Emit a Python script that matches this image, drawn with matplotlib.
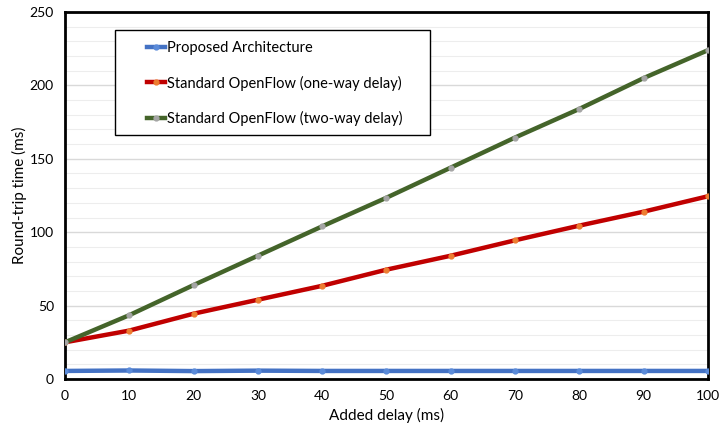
import matplotlib.pyplot as plt
from matplotlib.patches import Rectangle
import numpy as np

plt.rcParams['font.family'] = ['Lato', 'DejaVu Sans']

# data
delay = [0, 10, 20, 30, 40, 50, 60, 70, 80, 90, 100]
proposed = [5.5, 5.8, 5.4, 5.7, 5.5, 5.5, 5.5, 5.5, 5.5, 5.5, 5.5]
one_way = [25, 33, 44.5, 54, 63.5, 74.5, 84, 94.5, 104.5, 114, 124.5]
two_way = [25, 43.5, 64, 84, 104, 123.5, 144, 164.5, 184, 205, 224]

series = [
    ('Proposed Architecture', proposed, '#4472C4', '#5B8BD9'),
    ('Standard OpenFlow (one-way delay)', one_way, '#C00000', '#ED7D31'),
    ('Standard OpenFlow (two-way delay)', two_way, '#44642A', '#A5A5A5'),
]

fig = plt.figure(figsize=(7.23, 4.34), dpi=100)
ax = fig.add_axes([0.0899, 0.1267, 0.8893, 0.8456])

for label, vals, col, mcol in series:
    ax.plot(delay, vals, color=col, linewidth=3.2, marker='o', markersize=3.5,
            markerfacecolor=mcol, markeredgecolor=mcol, label=label, zorder=3)

ax.set_xlim(0, 100)
ax.set_ylim(0, 250)
ax.set_xticks(np.arange(0, 101, 10))
ax.set_yticks(np.arange(0, 251, 50))
ax.set_yticks(np.arange(0, 251, 10), minor=True)
ax.grid(which='major', axis='y', color='#D9D9D9', linewidth=1.0)
ax.grid(which='minor', axis='y', color='#EDEDED', linewidth=0.8)
ax.tick_params(which='both', length=0, labelsize=10, pad=8)
for s in ax.spines.values():
    s.set_linewidth(2)
    s.set_color('black')

ax.set_xlabel('Added delay (ms)', fontsize=11, labelpad=4)
ax.set_ylabel('Round-trip time (ms)', fontsize=11, labelpad=2)

# legend box (Excel style, wide padding)
ax.add_patch(Rectangle((0.0778, 0.665), 0.49, 0.286, transform=ax.transAxes,
                       facecolor='white', edgecolor='black', linewidth=1.0,
                       zorder=4))
leg = ax.legend(loc='upper left', bbox_to_anchor=(0.1275, 0.922), fontsize=10.5,
                frameon=False, handlelength=1.25, handletextpad=0.1,
                labelspacing=1.43, borderpad=0, borderaxespad=0)
leg.set_zorder(5)

fig.savefig('out.png', dpi=100)
